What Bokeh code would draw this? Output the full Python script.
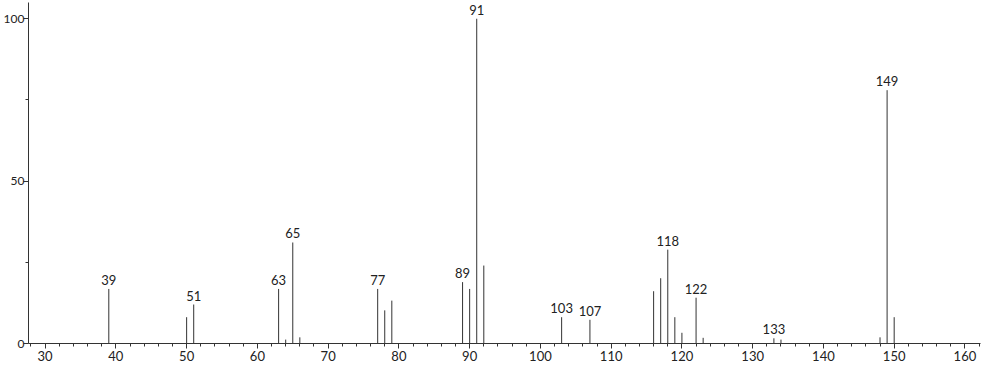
from bokeh.plotting import figure
from bokeh.models import ColumnDataSource, FixedTicker, Range1d
from bokeh.core.properties import value
from bokeh.embed import file_html
from bokeh.resources import INLINE

mz = [39, 50, 51, 63, 64, 65, 66, 77, 78, 79, 89, 90, 91, 92, 103, 107,
      116, 117, 118, 119, 120, 122, 123, 133, 134, 148, 149, 150]
intensity = [16.8, 8.1, 12.0, 16.8, 1.2, 31.1, 1.9, 16.8, 10.2, 13.2, 18.9, 16.8, 100.0, 24.0, 8.1, 7.3,
             16.1, 20.1, 28.9, 8.1, 3.3, 14.1, 1.75, 1.6, 1.2, 1.9, 78.0, 8.1]
labeled_mz = [39, 51, 63, 65, 77, 89, 91, 103, 107, 118, 122, 133, 149]

x_major = list(range(30, 161, 10))
x_minor = list(range(28, 163, 2))
y_major = [0, 50, 100]
y_minor = [25, 75]

FONT = "Lato"

p = figure(width=982, height=365, output_backend="svg", toolbar_location=None,
           x_range=Range1d(27.65, 162.2), y_range=Range1d(0, 105),
           min_border_left=28, min_border_right=2, min_border_top=2, min_border_bottom=22)
p.outline_line_color = None
p.xgrid.visible = False
p.ygrid.visible = False

src = ColumnDataSource(dict(x=mz, y0=[0] * len(mz), y1=intensity))
p.segment(x0="x", y0="y0", x1="x", y1="y1", source=src, line_color="#333333", line_width=1)

lab_y = [intensity[mz.index(m)] for m in labeled_mz]
lsrc = ColumnDataSource(dict(x=labeled_mz, y=lab_y, t=[str(m) for m in labeled_mz]))
p.text(x="x", y="y", text="t", source=lsrc, text_align="center", text_baseline="bottom",
       y_offset=-4, text_font=value(FONT), text_font_size="13px", text_color="#222222")

xa = p.xaxis[0]
xa.ticker = FixedTicker(ticks=x_major, minor_ticks=x_minor)
xa.major_tick_in = 0
xa.major_tick_out = 5
xa.minor_tick_in = 0
xa.minor_tick_out = 3
xa.major_label_standoff = 2
xa.axis_line_color = "#333333"
xa.major_tick_line_color = "#333333"
xa.minor_tick_line_color = "#333333"
xa.major_label_text_font = FONT
xa.major_label_text_font_size = "13px"
xa.major_label_text_color = "#222222"

ya = p.yaxis[0]
ya.ticker = FixedTicker(ticks=y_major, minor_ticks=y_minor)
ya.major_tick_in = 0
ya.major_tick_out = 5
ya.minor_tick_in = 0
ya.minor_tick_out = 3
ya.major_label_standoff = -1
ya.axis_line_color = "#333333"
ya.major_tick_line_color = "#333333"
ya.minor_tick_line_color = "#333333"
ya.major_label_text_font = FONT
ya.major_label_text_font_size = "12px"
ya.major_label_text_color = "#222222"

open("out.html", "w").write(file_html(p, INLINE))
